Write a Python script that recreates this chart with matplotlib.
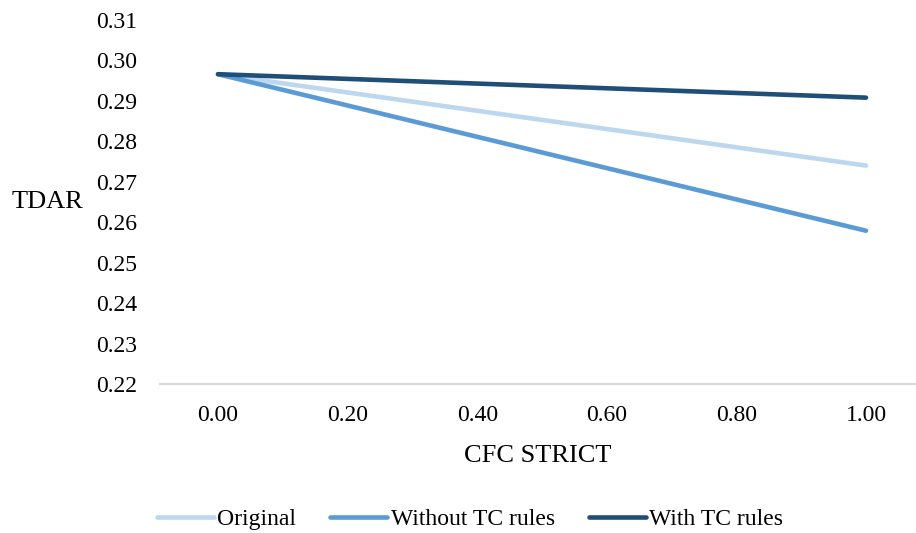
import matplotlib.pyplot as plt

plt.rcParams['font.family'] = ['Liberation Serif', 'DejaVu Serif']

# data
cfc = [0.0, 1.0]
original = [0.2966, 0.2740]
without_tc = [0.2966, 0.2579]
with_tc = [0.2966, 0.2908]
xticks = [0.0, 0.2, 0.4, 0.6, 0.8, 1.0]
yticks = [0.22, 0.23, 0.24, 0.25, 0.26, 0.27, 0.28, 0.29, 0.30, 0.31]

fig = plt.figure(figsize=(9.16, 5.33), dpi=100)
ax = fig.add_axes([160/916, 1-384/533, 756/916, 364/533])

ax.plot(cfc, original, color='#BDD7EE', lw=3.3, solid_capstyle='round', label='Original')
ax.plot(cfc, without_tc, color='#5B9BD5', lw=3.3, solid_capstyle='round', label='Without TC rules')
ax.plot(cfc, with_tc, color='#1F4E79', lw=3.3, solid_capstyle='round', label='With TC rules')

ax.set_xlim((160-218)/648, (916-218)/648)
ax.set_ylim(0.22, 0.31)
ax.set_xticks(xticks)
ax.set_xticklabels(['%.2f' % v for v in xticks])
ax.set_yticks(yticks)
ax.set_yticklabels(['%.2f' % v for v in yticks])
ax.tick_params(length=0, labelsize=17)
ax.tick_params(axis='x', pad=15)
ax.tick_params(axis='y', pad=16.5)

for s in ['top', 'right', 'left']:
    ax.spines[s].set_visible(False)
ax.spines['bottom'].set_color('#D9D9D9')
ax.spines['bottom'].set_linewidth(1.5)

ax.set_xlabel('CFC STRICT', fontsize=19, labelpad=14)
ax.set_ylabel('TDAR', fontsize=19, rotation=0, labelpad=35, va='center')

fig.legend(loc='center', bbox_to_anchor=(470/916, 1-519/533), ncol=3, frameon=False,
           fontsize=17, handlelength=2.4, handletextpad=0.15, columnspacing=1.45)

fig.savefig('out.png', dpi=100)
